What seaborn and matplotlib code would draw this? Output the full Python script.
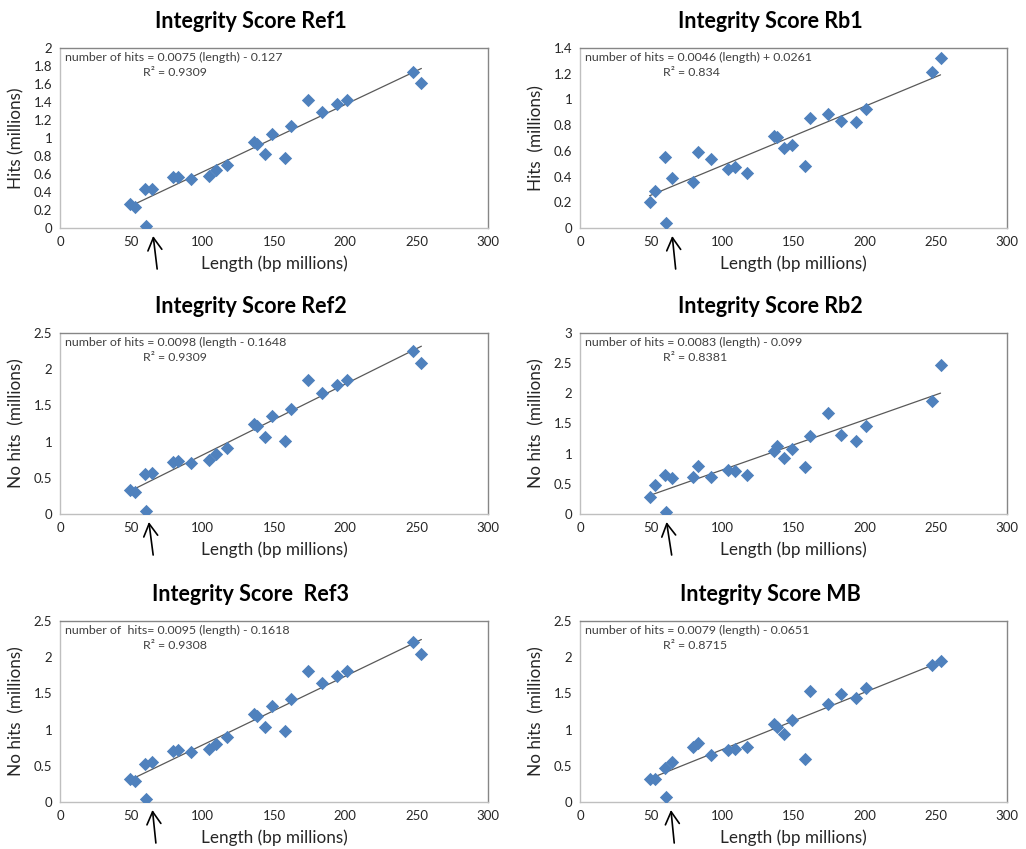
import numpy as np
import pandas as pd
import matplotlib
matplotlib.use("Agg")
import matplotlib.pyplot as plt
import seaborn as sns
from matplotlib.ticker import FuncFormatter, MultipleLocator

# chromosome lengths (bp millions), same for every panel
length = [48.9, 52.5, 59.9, 64.3, 60.5, 79.4, 82.9, 92.1, 104.1, 109.1, 117.0,
          136.3, 138.3, 143.4, 148.7, 157.9, 161.6, 174.0, 183.7, 194.1, 201.2,
          247.1, 253.3]

hits_ref1 = [0.263, 0.233, 0.430, 0.433, 0.026, 0.563, 0.563, 0.548, 0.578, 0.640, 0.704,
             0.959, 0.937, 0.819, 1.044, 0.778, 1.130, 1.419, 1.293, 1.374, 1.426,
             1.733, 1.607]
hits_rb1 = [0.201, 0.289, 0.550, 0.387, 0.039, 0.356, 0.594, 0.535, 0.462, 0.475, 0.424,
            0.716, 0.710, 0.625, 0.648, 0.486, 0.855, 0.883, 0.834, 0.821, 0.922,
            1.214, 1.323]
hits_ref2 = [0.327, 0.308, 0.548, 0.566, 0.037, 0.723, 0.727, 0.704, 0.746, 0.824, 0.912,
             1.238, 1.211, 1.059, 1.358, 1.004, 1.455, 1.851, 1.676, 1.786, 1.846,
             2.251, 2.086]
hits_rb2 = [0.287, 0.481, 0.641, 0.597, 0.028, 0.619, 0.790, 0.619, 0.729, 0.713, 0.641,
            1.044, 1.133, 0.923, 1.072, 0.773, 1.293, 1.680, 1.304, 1.204, 1.453,
            1.867, 2.475]
hits_ref3 = [0.322, 0.295, 0.529, 0.548, 0.037, 0.709, 0.714, 0.691, 0.732, 0.801, 0.893,
             1.215, 1.192, 1.036, 1.331, 0.985, 1.427, 1.805, 1.639, 1.745, 1.805,
             2.210, 2.040]
hits_mb = [0.313, 0.318, 0.465, 0.557, 0.069, 0.760, 0.815, 0.654, 0.718, 0.732, 0.755,
           1.073, 1.031, 0.944, 1.128, 0.589, 1.529, 1.358, 1.492, 1.436, 1.575,
           1.888, 1.943]

titles = ["Integrity Score Ref1", "Integrity Score Rb1", "Integrity Score Ref2",
          "Integrity Score Rb2", "Integrity Score  Ref3", "Integrity Score MB"]
ylabels = ["Hits (millions)", "Hits  (millions)", "No hits  (millions)",
           "No hits  (millions)", "No hits  (millions)", "No hits  (millions)"]
equations = ["number of hits = 0.0075 (length) - 0.127",
             "number of hits = 0.0046 (length) + 0.0261",
             "number of hits = 0.0098 (length - 0.1648",
             "number of hits = 0.0083 (length) - 0.099",
             "number of  hits= 0.0095 (length) - 0.1618",
             "number of hits = 0.0079 (length) - 0.0651"]
r2_labels = ["R\u00b2 = 0.9309", "R\u00b2 = 0.834", "R\u00b2 = 0.9309",
             "R\u00b2 = 0.8381", "R\u00b2 = 0.9308", "R\u00b2 = 0.8715"]
slopes = [0.0075, 0.0046, 0.0098, 0.0083, 0.0095, 0.0079]
intercepts = [-0.127, 0.0261, -0.1648, -0.099, -0.1618, -0.0651]
ymax = [2, 1.4, 2.5, 3, 2.5, 2.5]
ystep = [0.2, 0.2, 0.5, 0.5, 0.5, 0.5]
# arrow under the outlier point (tip x, tail x)
arrow_tip = [65.3, 64.8, 62.3, 60.8, 64.8, 63.9]
arrow_tail = [68.1, 67.2, 65.3, 64.4, 67.2, 66.2]

series = [hits_ref1, hits_rb1, hits_ref2, hits_rb2, hits_ref3, hits_mb]

sns.set_style("white")
plt.rcParams["font.family"] = ["Lato", "DejaVu Sans"]

W, H = 1026, 849
fig = plt.figure(figsize=(W / 100, H / 100), dpi=100)

# axes boxes in pixels: left, top, right, bottom
boxes = [(60, 48, 488, 228), (580, 48, 1007, 228),
         (60, 333, 488, 514), (580, 333, 1007, 514),
         (60, 621, 488, 802), (580, 621, 1007, 802)]

blue = "#4F81BD"
for i in range(6):
    l, t, r, b = boxes[i]
    ax = fig.add_axes([l / W, 1 - b / H, (r - l) / W, (b - t) / H])
    df = pd.DataFrame({"length": length, "hits": series[i]})
    sns.scatterplot(data=df, x="length", y="hits", marker="D", s=46,
                    color=blue, edgecolor=blue, linewidth=0, ax=ax, zorder=3)
    xs = np.array([min(length), max(length)])
    ax.plot(xs, slopes[i] * xs + intercepts[i], color="#595959", lw=0.9, zorder=2)

    ax.set_xlim(0, 300)
    ax.set_ylim(0, ymax[i])
    ax.xaxis.set_major_locator(MultipleLocator(50))
    ax.yaxis.set_major_locator(MultipleLocator(ystep[i]))
    ax.yaxis.set_major_formatter(FuncFormatter(lambda v, p: f"{v:.1f}".rstrip("0").rstrip(".")))
    ax.tick_params(length=0, labelsize=9.5, colors="#262626", pad=5.5)
    ax.set_xlabel("")
    ax.set_ylabel("")
    for s in ["left", "bottom"]:
        ax.spines[s].set_color("#bfbfbf")
    for s in ["top", "right"]:
        ax.spines[s].set_color("#868686")
    for s in ax.spines.values():
        s.set_linewidth(1)

    h = b - t
    ax.text(0.446, 1 + 26.5 / h, titles[i], transform=ax.transAxes, ha="center",
            va="center", fontsize=15.5, fontweight="bold", color="black")
    ax.text(0.5, -36 / h, "Length (bp millions)", transform=ax.transAxes,
            ha="center", va="center", fontsize=12.3, color="#262626")
    ax.text(-44 / (r - l), 0.5, ylabels[i], transform=ax.transAxes, rotation=90,
            ha="center", va="center", fontsize=12.3, color="#262626")
    ax.text(0.011, 0.945, equations[i], transform=ax.transAxes, ha="left",
            va="center", fontsize=8.9, color="#404040")
    ax.text(0.195, 0.865, r2_labels[i], transform=ax.transAxes, ha="left",
            va="center", fontsize=8.9, color="#404040")

    ax.annotate("", xy=(arrow_tip[i], -8 / h), xytext=(arrow_tail[i], -41 / h),
                xycoords=("data", "axes fraction"), textcoords=("data", "axes fraction"),
                arrowprops=dict(arrowstyle="->,head_length=0.5,head_width=0.28",
                                color="black", lw=1.2, mutation_scale=18,
                                shrinkA=0, shrinkB=0),
                annotation_clip=False)

fig.savefig("out.png", dpi=100)
